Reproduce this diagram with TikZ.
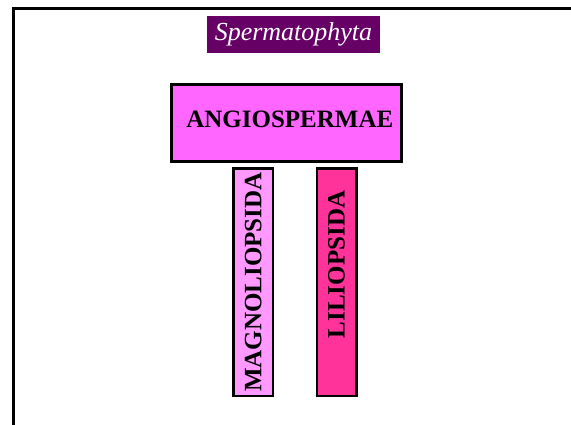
\documentclass[tikz,border=0pt]{standalone}
\usepackage{fontspec}
\setmainfont{Liberation Serif}
\usepackage{xcolor}
\usepackage{tikz}
\usetikzlibrary{positioning}
\definecolor{sperm}{HTML}{660066}
\definecolor{angio}{HTML}{FF66FF}
\definecolor{magno}{HTML}{FF99FF}
\definecolor{lilio}{HTML}{FF3399}

\begin{document}
\begin{tikzpicture}[
  x=1pt,y=-1pt,
  every node/.style={font=\fontsize{25}{28}\selectfont\bfseries},
  taxon/.style={draw=black,line width=3pt,inner sep=0pt,align=center},
  column/.style={taxon,line width=2.5pt,rotate=90,minimum width=227.5pt,minimum height=39.5pt}
]
\useasboundingbox (0,0) rectangle (571,424);
\draw[line width=2.7pt] (13.3,430) -- (13.3,8.7) -- (580,8.7);
\node[fill=sperm,text=white,inner sep=0pt,minimum width=173pt,minimum height=37.6pt,font=\fontsize{26}{28}\selectfont\itshape] (sperm) at (293.5,34.5) {Spermatophyta};
\node[taxon,fill=angio,minimum width=230pt,minimum height=77pt] (angios) at (286.8,122.5) {\hspace*{6pt}ANGIOSPERMAE\raisebox{0pt}[0pt][6pt]{}};
\node[column,fill=magno] (magnolio) at (253.3,282) {MAGNOLIOPSIDA};
\node[column,fill=lilio] (lilio) at (336.5,282) {\hspace*{35pt}LILIOPSIDA};
\end{tikzpicture}
\end{document}
